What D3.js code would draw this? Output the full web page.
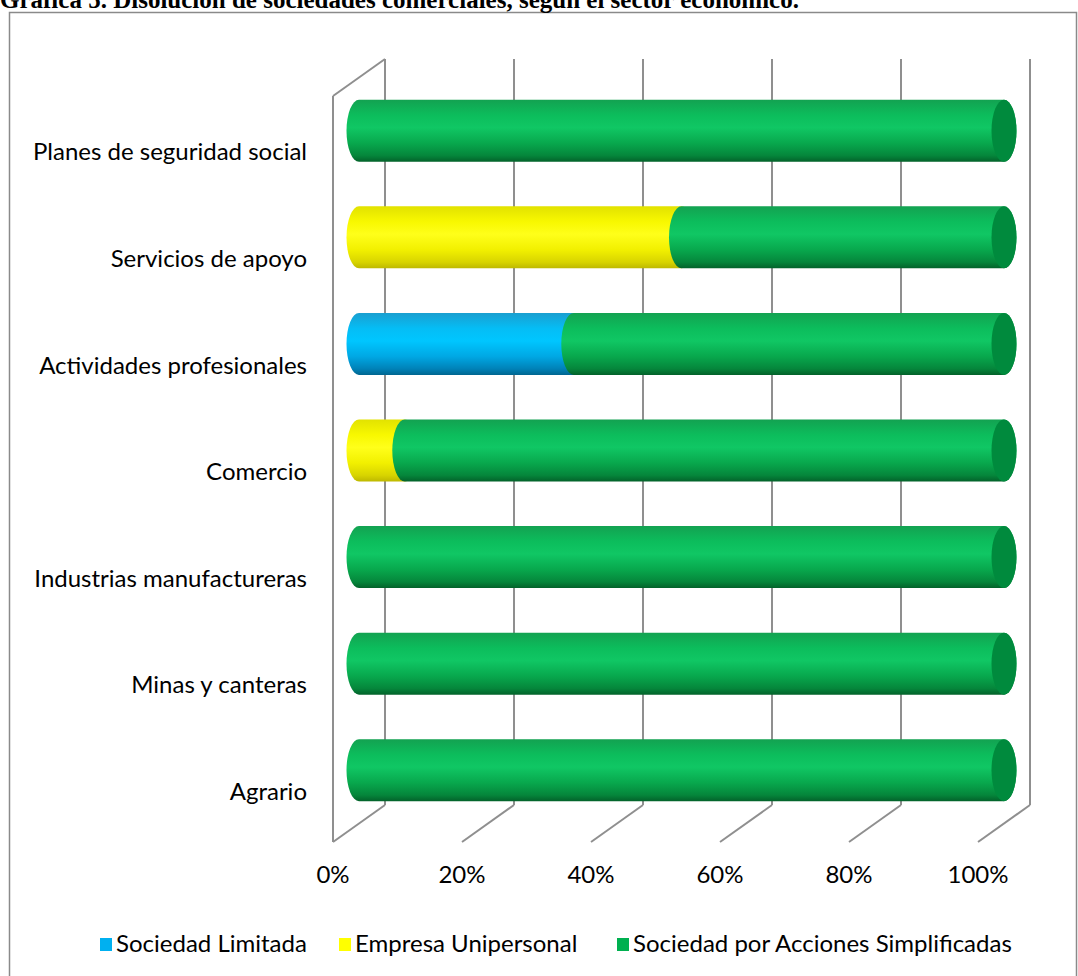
<!DOCTYPE html>
<html><head><meta charset="utf-8">
<script src="https://cdn.jsdelivr.net/npm/d3@7"></script>
<style>body{margin:0;background:#fff}svg{display:block}</style>
</head><body>
<svg id="c" width="1078" height="976"></svg>
<script>
const categories = ["Agrario","Minas y canteras","Industrias manufactureras","Comercio","Actividades profesionales","Servicios de apoyo","Planes de seguridad social"];
const seriesNames = ["Sociedad Limitada","Empresa Unipersonal","Sociedad por Acciones Simplificadas"];
const sociedadLimitada = [0,0,0,0,33.3,0,0];
const empresaUnipersonal = [0,0,0,7.1,0,50,0];
const sociedadSAS = [100,100,100,92.9,66.7,50,100];
const tickValues = [0,20,40,60,80,100];
const tickLabels = ["0%","20%","40%","60%","80%","100%"];
const titleText = "Gráfica 5. Disolución de sociedades comerciales, según el sector económico.";

const svg = d3.select("#c");
const DX = -52, DY = 37; // depth offset back->front
const x = d3.scaleLinear().domain([0,100]).range([385,1030]);
const y = d3.scaleBand().domain(categories.slice().reverse()).range([59,805]);
const wallTop = 59, wallBot = 805;
const gridColor = "#8f8f8f";

// border + title
svg.append("rect").attr("x",9.5).attr("y",12.5).attr("width",1067).attr("height",980)
  .attr("fill","none").attr("stroke","#8a8a8a").attr("stroke-width",1.5);
svg.append("text").attr("x",0).attr("y",8).attr("font-family","Liberation Serif, Times New Roman, serif")
  .attr("font-weight","bold").attr("font-size",25).attr("fill","#000").text(titleText);

// walls / gridlines
const g = svg.append("g").attr("stroke",gridColor).attr("stroke-width",2).attr("fill","none");
tickValues.forEach(t=>{
  g.append("line").attr("x1",x(t)).attr("y1",wallTop).attr("x2",x(t)).attr("y2",wallBot);
  g.append("line").attr("x1",x(t)).attr("y1",wallBot).attr("x2",x(t)+DX).attr("y2",wallBot+DY);
});
g.append("line").attr("x1",x(0)).attr("y1",wallTop).attr("x2",x(0)+DX).attr("y2",wallTop+DY);
g.append("line").attr("x1",x(0)+DX).attr("y1",wallTop+DY).attr("x2",x(0)+DX).attr("y2",wallBot+DY);

// gradients
const defs = svg.append("defs");
const palettes = [
  {base:"#00B0F0", stops:[["0","#1a9fd0"],["0.25","#05bdf5"],["0.45","#00c6ff"],["0.7","#00a8e4"],["0.9","#0082b8"],["1","#006690"]], cap:"#0094cc"},
  {base:"#FFFF00", stops:[["0","#e2e200"],["0.25","#f8f800"],["0.45","#ffff1a"],["0.7","#f2f000"],["0.9","#d8d400"],["1","#bdb800"]], cap:"#d9d600"},
  {base:"#00B050", stops:[["0","#13a251"],["0.25","#0cbd5c"],["0.45","#10c764"],["0.7","#08a84d"],["0.9","#05863b"],["1","#03622a"]], cap:"#008a3d"}
];
palettes.forEach((p,i)=>{
  const lg = defs.append("linearGradient").attr("id","gr"+i).attr("x1",0).attr("y1",0).attr("x2",0).attr("y2",1);
  p.stops.forEach(s=>lg.append("stop").attr("offset",s[0]).attr("stop-color",s[1]));
});

// stacked data
const series = [sociedadLimitada, empresaUnipersonal, sociedadSAS];
const stackData = categories.map((c,i)=>{const o={cat:c}; seriesNames.forEach((n,j)=>o[n]=series[j][i]); return o;});
const stacked = d3.stack().keys(seriesNames)(stackData);

const RX = 12.5, HALF = 31;
const bars = svg.append("g");
categories.forEach((c,ci)=>{
  const cy = y(c) + y.bandwidth()/2 + DY/2;
  const top = cy - HALF, bot = cy + HALF;
  let lastIdx = -1;
  stacked.forEach((s,si)=>{ if (s[ci][1]-s[ci][0] > 0) lastIdx = si; });
  stacked.forEach((s,si)=>{
    const d = s[ci];
    if (d[1]-d[0] <= 0) return;
    const x0 = x(d[0]) + DX/2, x1 = x(d[1]) + DX/2;
    const path = `M${x0},${top} L${x1},${top} A${RX},${HALF} 0 0 1 ${x1},${bot} L${x0},${bot} A${RX},${HALF} 0 0 1 ${x0},${top} Z`;
    bars.append("path").attr("d",path).attr("fill",`url(#gr${si})`);
    if (si === lastIdx) {
      bars.append("ellipse").attr("cx",x1).attr("cy",cy).attr("rx",RX).attr("ry",HALF)
        .attr("fill",palettes[si].cap);
    }
  });
});

// category labels
const font = "Lato, Carlito, Calibri, sans-serif";
const fs = 24;
svg.append("g").selectAll("text").data(categories).join("text")
  .attr("x",307).attr("y",d=>y(d)+y.bandwidth()/2+DY+5)
  .attr("text-anchor","end").attr("dominant-baseline","middle")
  .attr("font-family",font).attr("font-size",fs).attr("fill","#000").text(d=>d);

// tick labels
svg.append("g").selectAll("text").data(tickValues).join("text")
  .attr("x",d=>x(d)+DX).attr("y",877)
  .attr("text-anchor","middle").attr("dominant-baseline","middle")
  .attr("font-family",font).attr("font-size",fs).attr("fill","#000").text((d,i)=>tickLabels[i]);

// legend
const legX = [100,339,617];
const leg = svg.append("g");
seriesNames.forEach((n,i)=>{
  leg.append("rect").attr("x",legX[i]).attr("y",938).attr("width",12).attr("height",13).attr("fill",palettes[i].base);
  leg.append("text").attr("x",legX[i]+16).attr("y",946).attr("dominant-baseline","middle")
    .attr("font-family",font).attr("font-size",fs).attr("fill","#000").text(n);
});
</script>
</body></html>
